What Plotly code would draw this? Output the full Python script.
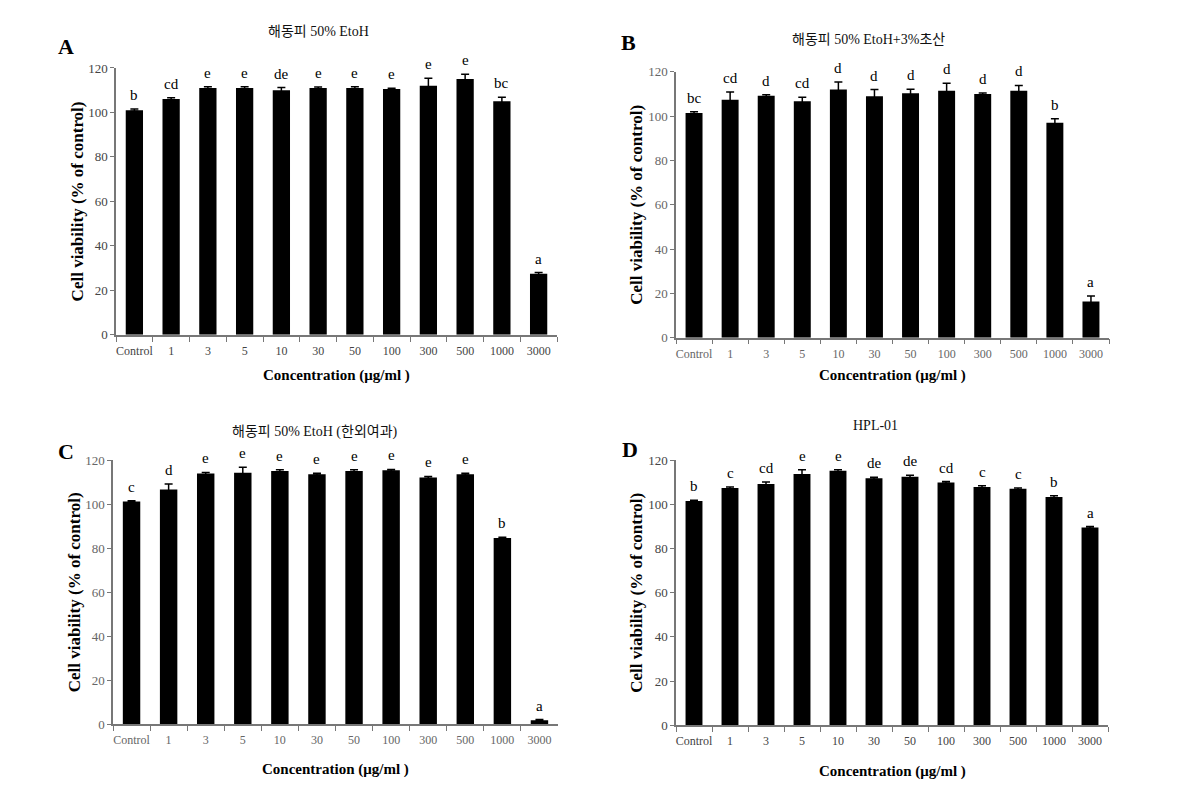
import plotly.graph_objects as go

categories = ["Control", "1", "3", "5", "10", "30", "50", "100", "300", "500", "1000", "3000"]

a_values = [101, 106, 111, 111, 110, 111, 111, 110.5, 112, 115, 105, 27.5]
a_errors = [0.5, 0.6, 0.6, 0.6, 1.2, 0.4, 0.5, 0.4, 3.4, 2.2, 1.8, 0.5]
a_letters = ["b", "cd", "e", "e", "de", "e", "e", "e", "e", "e", "bc", "a"]

b_values = [101.5, 107.4, 109.2, 106.8, 112, 109, 110.4, 111.5, 110, 111.5, 97, 16.4]
b_errors = [0.5, 3.5, 0.5, 1.8, 3.4, 3, 1.8, 3.4, 0.5, 2.4, 1.8, 2.4]
b_letters = ["bc", "cd", "d", "cd", "d", "d", "d", "d", "d", "d", "b", "a"]

c_values = [101.3, 106.8, 114, 114.4, 115.2, 113.7, 115.2, 115.5, 112.2, 113.7, 84.7, 1.8]
c_errors = [0.3, 2.5, 0.5, 2.5, 0.5, 0.4, 0.5, 0.4, 0.5, 0.4, 0.3, 0.3]
c_letters = ["c", "d", "e", "e", "e", "e", "e", "e", "e", "e", "b", "a"]

d_values = [101.6, 107.5, 109.3, 113.8, 115.3, 111.9, 112.6, 110, 107.9, 107.1, 103.4, 89.6]
d_errors = [0.3, 0.4, 0.9, 1.9, 0.5, 0.5, 0.6, 0.4, 0.6, 0.4, 0.6, 0.4]
d_letters = ["b", "c", "cd", "e", "e", "de", "de", "cd", "c", "c", "b", "a"]

titles = ["해동피 50% EtoH", "해동피 50% EtoH+3%초산", "해동피 50% EtoH (한외여과)", "HPL-01"]
panel_labels = ["A", "B", "C", "D"]
x_title = "Concentration (μg/ml )"
y_title = "Cell viability (% of control)"

W, H = 1177, 788
SERIF = "Liberation Serif, Times New Roman, serif"
KSERIF = "Liberation Serif, Noto Sans CJK KR, serif"

panels = [
    dict(vals=a_values, errs=a_errors, lets=a_letters, box=(108, 549, 54, 326),
         title=(310, 17), label=(58, 32), xoff=41, tick="#444"),
    dict(vals=b_values, errs=b_errors, lets=b_letters, box=(668, 1101, 58, 329),
         title=(860, 25), label=(620, 28), xoff=38, tick="#666"),
    dict(vals=c_values, errs=c_errors, lets=c_letters, box=(105, 550, 454, 723),
         title=(307, 425), label=(58, 445), xoff=45, tick="#666"),
    dict(vals=d_values, errs=d_errors, lets=d_letters, box=(668, 1100, 454, 724),
         title=(867, 418), label=(622, 443), xoff=46, tick="#444"),
]

fig = go.Figure()
annotations = []
layout = dict(
    width=W, height=H, margin=dict(l=0, r=0, t=0, b=0),
    paper_bgcolor="white", plot_bgcolor="white", showlegend=False,
    bargap=0.53,
)

for i, p in enumerate(panels):
    n = "" if i == 0 else str(i + 1)
    xa, ya = "x" + n, "y" + n
    l, r, t, b = p["box"]
    fig.add_trace(go.Bar(
        x=categories, y=p["vals"], xaxis=xa, yaxis=ya,
        marker=dict(color="black", line=dict(width=0)),
        error_y=dict(type="data", array=p["errs"], visible=True,
                     color="black", thickness=1.5, width=4),
        hoverinfo="skip",
    ))
    layout["xaxis" + n] = dict(
        domain=[l / W, r / W], anchor=ya, type="category",
        range=[-0.5, len(categories) - 0.5],
        showline=True, linecolor="#777", linewidth=1.5,
        ticks="outside", ticklen=5, tickcolor="#777", tickwidth=1,
        tickson="boundaries", showgrid=False, zeroline=False,
        tickangle=0,
        tickfont=dict(family=SERIF, size=12, color=p["tick"]),
        ticklabelstandoff=4,
    )
    layout["yaxis" + n] = dict(
        domain=[1 - b / H, 1 - t / H], anchor=xa,
        range=[0, 120], dtick=20, tick0=0,
        showline=True, linecolor="#777", linewidth=1.5,
        ticks="outside", ticklen=4, tickcolor="#777", tickwidth=1,
        showgrid=False, zeroline=False,
        tickfont=dict(family=SERIF, size=13, color=p["tick"]),
    )
    for k, (v, e, s) in enumerate(zip(p["vals"], p["errs"], p["lets"])):
        annotations.append(dict(
            x=k, y=v + e, xref=xa, yref=ya, text=s, showarrow=False,
            xanchor="center", yanchor="bottom", yshift=4,
            font=dict(family=SERIF, size=15, color="black"),
        ))
    annotations.append(dict(
        x=p["title"][0] / W, y=1 - p["title"][1] / H, xref="paper", yref="paper",
        text=titles[i], showarrow=False, xanchor="center", yanchor="middle",
        font=dict(family=KSERIF, size=14, color="#111"),
    ))
    annotations.append(dict(
        x=p["label"][0] / W, y=1 - p["label"][1] / H, xref="paper", yref="paper",
        text="<b>" + panel_labels[i] + "</b>", showarrow=False,
        xanchor="center", yanchor="middle",
        font=dict(family=SERIF, size=22, color="black"),
    ))
    annotations.append(dict(
        x=0.5, y=0, xref=xa + " domain", yref=ya + " domain",
        text="<b>" + x_title + "</b>", showarrow=False,
        xanchor="center", yanchor="middle", yshift=-p["xoff"],
        font=dict(family=SERIF, size=15, color="black"),
    ))
    annotations.append(dict(
        x=0, y=0.5, xref=xa + " domain", yref=ya + " domain",
        text="<b>" + y_title + "</b>", showarrow=False, textangle=-90,
        xanchor="center", yanchor="middle", xshift=-39,
        font=dict(family=SERIF, size=17, color="black"),
    ))

layout["annotations"] = annotations
fig.update_layout(**layout)
fig.write_html("out.html")
